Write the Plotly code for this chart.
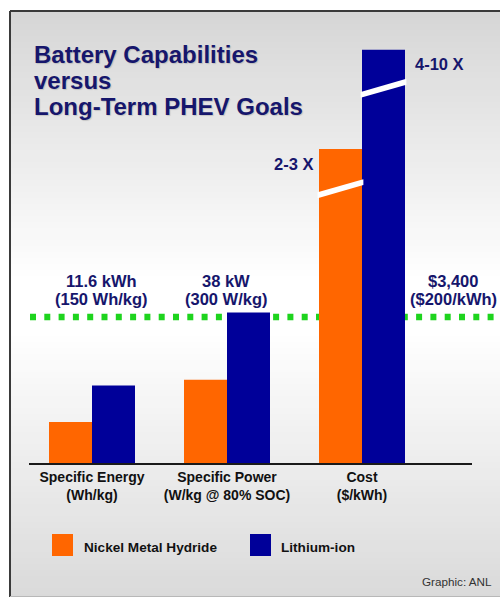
import plotly.graph_objects as go

# ---------------- data ----------------
categories = ["Specific Energy", "Specific Power", "Cost"]
category_units = ["(Wh/kg)", "(W/kg @ 80% SOC)", "($/kWh)"]
series_names = ["Nickel Metal Hydride", "Lithium-ion"]
# capability expressed as percent of the long-term PHEV goal (goal = 100)
nimh_pct = [28, 57, 215]
liion_pct = [53, 103, 283]
goal_pct = 100
goal_values = ["11.6 kWh", "38 kW", "$3,400"]
goal_units = ["(150 Wh/kg)", "(300 W/kg)", "($200/kWh)"]
cost_multipliers = ["2-3 X", "4-10 X"]
cost_break_frac = [0.853, 0.891]
series_colors = ["#FF6600", "#000099"]

# ---------------- layout helpers ----------------
W, H = 500, 599
def px(x):
    return x / W
def py(y):
    return 1 - y / H

x_center0, x_step = 92.0, 135.0
bar_w = 43.0 / x_step
x_dom = [29, 472]
y_base, y_per_unit = 463.0, 1.46

navy = "#16166c"
font_family = "Arial, Liberation Sans, sans-serif"

fig = go.Figure()
xs = list(range(len(categories)))
for i, (name, vals) in enumerate(zip(series_names, [nimh_pct, liion_pct])):
    fig.add_trace(go.Bar(
        x=xs, y=vals, name=name, width=bar_w, offset=-bar_w if i == 0 else 0,
        marker=dict(color=series_colors[i], line=dict(width=0)),
        showlegend=False, hoverinfo="skip",
    ))

shapes = []
# background gradient (vertical)
def gray_at(y):
    if y < 280:
        return 214 + (255 - 214) * (y - 12) / (280 - 12)
    if y < 330:
        return 255
    return 255 - (255 - 218) * (y - 330) / (596 - 330)

step = 6
y = 12
while y < 596:
    g = int(round(gray_at(y + step / 2)))
    g = max(0, min(255, g))
    shapes.append(dict(type="rect", xref="paper", yref="paper", layer="below",
                       x0=px(11), x1=1.0, y0=py(min(y + step, 596)), y1=py(y),
                       fillcolor=f"rgb({g},{g},{g})", line=dict(width=0)))
    y += step

# frame
shapes.append(dict(type="line", xref="paper", yref="paper", layer="below",
                   x0=px(10), x1=1.0, y0=py(11), y1=py(11),
                   line=dict(color="#3a3a3a", width=2)))
shapes.append(dict(type="line", xref="paper", yref="paper", layer="below",
                   x0=px(10), x1=px(10), y0=py(11), y1=py(597),
                   line=dict(color="#3a3a3a", width=2)))
shapes.append(dict(type="line", xref="paper", yref="paper", layer="below",
                   x0=px(10), x1=1.0, y0=py(596.5), y1=py(596.5),
                   line=dict(color="#b8b8b8", width=1)))

# goal dotted line
shapes.append(dict(type="line", xref="paper", yref="y", layer="below",
                   x0=px(30), x1=1.0, y0=goal_pct, y1=goal_pct,
                   line=dict(color="#1ed41e", width=6.5, dash="6px,8.3px")))

# axis-break marks on the cost bars
ci = categories.index("Cost")
rise = 9.0
thick = 4.0
for i, vals in enumerate([nimh_pct, liion_pct]):
    xl = ci - bar_w if i == 0 else ci
    xr = xl + bar_w
    yc = vals[ci] * cost_break_frac[i]
    path = (f"M{xl - 0.01},{yc - thick / 2} L{xr + 0.01},{yc - thick / 2 + rise} "
            f"L{xr + 0.01},{yc + thick / 2 + rise} L{xl - 0.01},{yc + thick / 2} Z")
    shapes.append(dict(type="path", xref="x", yref="y", layer="above", path=path,
                       fillcolor="white", line=dict(width=0)))

# legend swatches
legend_x = [52, 250]
for i in range(2):
    shapes.append(dict(type="rect", xref="paper", yref="paper", layer="above",
                       x0=px(legend_x[i]), x1=px(legend_x[i] + 21),
                       y0=py(556), y1=py(534),
                       fillcolor=series_colors[i], line=dict(width=0)))

annotations = []
def ann(text, x, y, size, color=navy, bold=True, xanchor="center", shadow=None):
    f = dict(family=font_family, size=size, color=color)
    if shadow:
        f["shadow"] = shadow
    annotations.append(dict(text=f"<b>{text}</b>" if bold else text,
                            xref="paper", yref="paper", x=px(x), y=py(y),
                            xanchor=xanchor, yanchor="middle", showarrow=False,
                            font=f, borderpad=0))

# title
title_lines = ["Battery Capabilities", "versus", "Long-Term PHEV Goals"]
for line, yy in zip(title_lines, [54.7, 80.7, 106.7]):
    ann(line, 33, yy, 24, xanchor="left", shadow="1px 1px 1px rgba(0,0,0,0.15)")

# goal labels
goal_x = [101, 226, 453]
for gv, gu, gx in zip(goal_values, goal_units, goal_x):
    ann(gv, gx, 281, 16.5)
    ann(gu, gx, 299, 16.5)

# cost multipliers
ann(cost_multipliers[0], 314, 164.3, 16.5, xanchor="right")
ann(cost_multipliers[1], 414, 64.3, 16.5, xanchor="left")

# legend labels
legend_tx = [83, 280]
for i in range(2):
    ann(series_names[i], legend_tx[i], 547.3, 13.6, color="#111111", xanchor="left")

ann("Graphic: ANL", 493, 581, 11.7, color="#333333", bold=False, xanchor="right")

fig.update_layout(
    width=W, height=H,
    margin=dict(l=0, r=0, t=0, b=0, pad=0),
    paper_bgcolor="white", plot_bgcolor="rgba(0,0,0,0)",
    barmode="overlay",
    shapes=shapes, annotations=annotations,
    xaxis=dict(domain=[px(x_dom[0]), px(x_dom[1])],
               range=[(x_dom[0] - x_center0) / x_step, (x_dom[1] - x_center0) / x_step],
               tickvals=xs,
               ticktext=[f"<b>{c}</b><br><b>{u}</b>" for c, u in zip(categories, category_units)],
               tickfont=dict(family=font_family, size=14, color="#111111"),
               ticks="", showgrid=False, zeroline=False,
               showline=True, linecolor="#1a1a1a", linewidth=2, fixedrange=True),
    yaxis=dict(domain=[(H - y_base) / H, 1],
               range=[0, y_base / y_per_unit],
               visible=False, showgrid=False, zeroline=False, fixedrange=True),
    showlegend=False,
)

fig.write_html("out.html", config={"displayModeBar": False},
               post_script="document.body.style.margin='0';document.body.style.overflow='hidden';")
